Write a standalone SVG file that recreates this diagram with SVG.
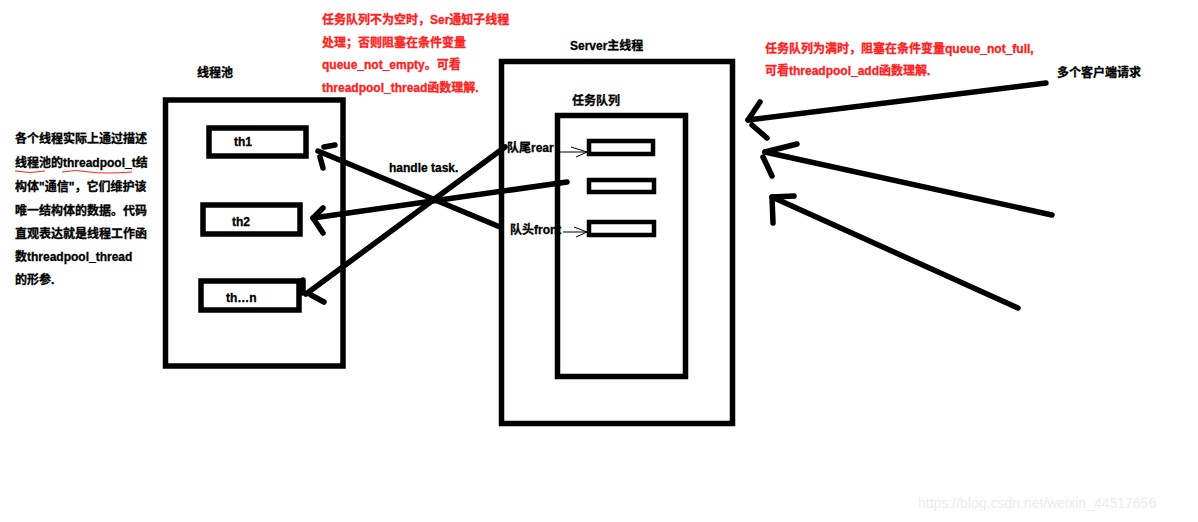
<svg xmlns="http://www.w3.org/2000/svg" width="1198" height="522" viewBox="0 0 1198 522">
<style>
.box{fill:none;stroke:#000;stroke-width:5.5}
.sbox{fill:none;stroke:#000;stroke-width:4.5}
.t{font-family:"Liberation Sans","Noto Sans CJK SC",sans-serif;font-weight:bold;font-size:12px;fill:#000;stroke:#000;stroke-width:0.3}
.r{font-family:"Liberation Sans","Noto Sans CJK SC",sans-serif;font-weight:bold;font-size:12px;fill:#ff2020;stroke:#ff2020;stroke-width:0.3}
.arr{fill:none;stroke:#000;stroke-width:5.5;stroke-linecap:round;stroke-linejoin:round}
.thin{fill:none;stroke:#000;stroke-width:1}
.wm{font-family:"Liberation Sans","Noto Sans",sans-serif;font-size:14px;fill:#ececec}
</style>
<rect width="1198" height="522" fill="#fff"/>

<g id="notes">
<text class="r" x="322" y="24">任务队列不为空时，Ser通知子线程</text>
<text class="r" x="322" y="47">处理；否则阻塞在条件变量</text>
<text class="r" x="322" y="69">queue_not_empty。可看</text>
<text class="r" x="322" y="92">threadpool_thread函数理解.</text>
<text class="r" x="765" y="53">任务队列为满时，阻塞在条件变量queue_not_full,</text>
<text class="r" x="765" y="75">可看threadpool_add函数理解.</text>
<text class="t" x="1057" y="77">多个客户端请求</text>
<text class="t" x="15" y="143">各个线程实际上通过描述</text>
<text class="t" x="15" y="167">线程池的threadpool_t结</text>
<text class="t" x="15" y="191">构体"通信"，它们维护该</text>
<text class="t" x="15" y="215">唯一结构体的数据。代码</text>
<text class="t" x="15" y="238">直观表达就是线程工作函</text>
<text class="t" x="15" y="261">数threadpool_thread</text>
<text class="t" x="15" y="284">的形参.</text>
<path d="M15,171 Q30,174 45,171" fill="none" stroke="#ff2020" stroke-width="1"/>
<path d="M62,172 Q75,169 90,172 Q105,174 132,172" fill="none" stroke="#ff2020" stroke-width="1"/>
<text class="wm" x="918" y="508">https://blog.csdn.net/weixin_44517656</text>
</g>

<g id="pool">
<text class="t" x="197" y="77">线程池</text>
<rect class="box" x="165.5" y="100" width="177.5" height="266"/>
</g>
<g id="th1">
<rect class="box" x="209" y="128" width="97" height="28"/>
<text class="t" x="234" y="146">th1</text>
</g>
<g id="th2">
<rect class="box" x="203" y="205" width="97" height="29"/>
<text class="t" x="232" y="226">th2</text>
</g>
<g id="thn">
<rect class="box" x="201" y="281" width="98" height="29"/>
<text class="t" x="226" y="302">th…n</text>
</g>

<g id="server">
<text class="t" x="570" y="50">Server主线程</text>
<rect class="box" x="501.5" y="61.5" width="231" height="362"/>
</g>
<g id="queue">
<text class="t" x="572" y="105">任务队列</text>
<text class="t" x="507" y="152">队尾rear</text>
<text class="t" x="510" y="234">队头front</text>
<rect class="box" x="557.5" y="115.5" width="128" height="261"/>
<rect class="sbox" x="589" y="141" width="64" height="13"/>
<rect class="sbox" x="589" y="180" width="65" height="12"/>
<rect class="sbox" x="589" y="222" width="65" height="13"/>
</g>

<g id="connectors">
<path class="thin" d="M560,152 L587,152 M571,147 L587,152 L576,157"/>
<path class="thin" d="M563,232 L587,232 M574,227 L587,232 L576,237"/>
<path class="arr" d="M500,227 L318,151"/>
<path class="arr" d="M324,147 L335,145 M320,157 L323,168"/>
<path class="arr" d="M567,182 L313,218"/>
<path class="arr" d="M313,218 L323,208 M313,218 L323,233"/>
<path class="arr" d="M505,147 L306,294"/>
<path class="arr" d="M303,280 L303,293 M311,295 L324,302"/>
<text class="t" x="389" y="172">handle task.</text>
<path class="arr" d="M1046,83 L748,120"/>
<path class="arr" d="M748,120 L760,102 M752,125 L767,138"/>
<path class="arr" d="M1052,215 L765,152"/>
<path class="arr" d="M765,152 L797,144 M763,157 L772,176"/>
<path class="arr" d="M1018,308 L772,197"/>
<path class="arr" d="M772,197 L794,196 M772,197 L773,223"/>
</g>
</svg>
